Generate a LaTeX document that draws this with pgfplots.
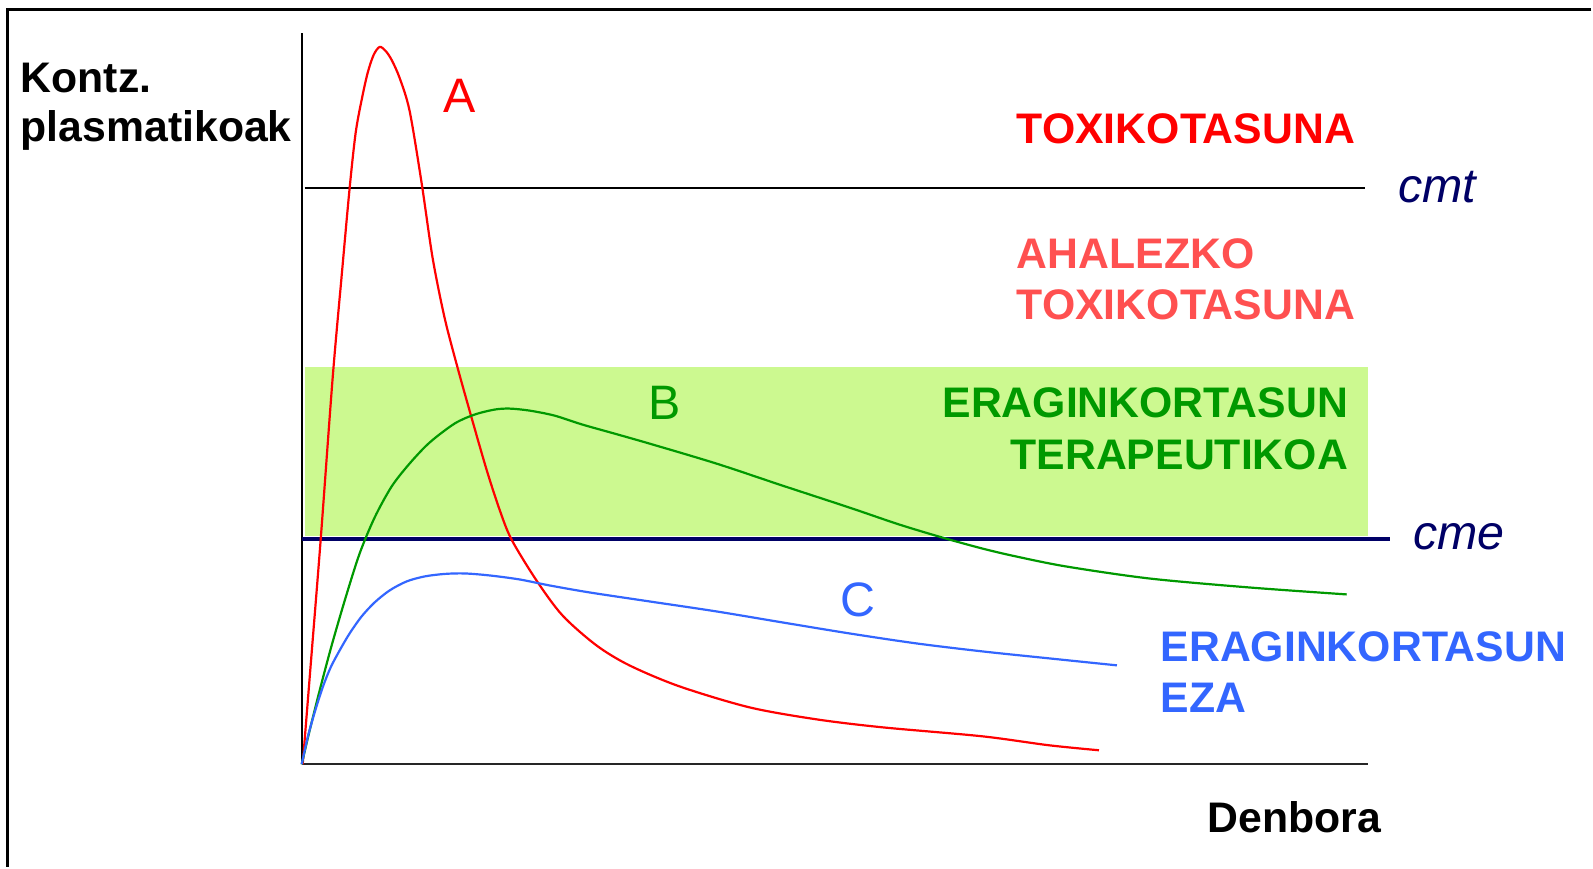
\documentclass[border=0pt]{standalone}
\usepackage{pgfplots}
\pgfplotsset{compat=1.18}
\usepackage{fontspec}
\setmainfont{Liberation Sans}
\definecolor{navy}{HTML}{000066}
\definecolor{redA}{HTML}{FF0000}
\definecolor{lightred}{HTML}{FF5050}
\definecolor{greenB}{HTML}{009900}
\definecolor{blueC}{HTML}{3366FF}
\definecolor{band}{HTML}{CCF990}
\newcommand{\bigb}{\fontsize{10.7}{12}\selectfont\bfseries}
\newcommand{\reg}{\fontsize{12.1}{14}\selectfont}
\begin{document}
\begin{tikzpicture}
\begin{axis}[
  scale only axis, width=266.75pt, height=183pt,
  xmin=302, xmax=1369, ymin=103, ymax=835,
  axis x line=bottom, axis y line=left,
  x axis line style={-, line width=0.6pt, draw=black!85},
  y axis line style={-, line width=0.5pt, draw=black},
  xtick=\empty, ytick=\empty, clip=false,
]
% page extent
\path (axis cs:0,0) rectangle (axis cs:1593,868);
% frame (cropped)
\draw[line width=0.75pt] (axis cs:1593,858) -- (axis cs:7.5,858) -- (axis cs:7.5,0);
% therapeutic band
\addplot[fill=band, draw=none] coordinates {(305,331) (1369,331) (1369,501) (305,501)} -- cycle;
% cmt line
\addplot[black, line width=0.5pt] coordinates {(305,680) (1366,680)};
% cme line
\addplot[navy, line width=1pt] coordinates {(302,328) (1391,328)};
% curve A
\addplot[redA, line width=0.55pt, smooth, tension=0.5] coordinates {
(303,103) (312,215) (321,328) (333,490) (342,592) (350,680) (356,735)
(362,768) (368,795) (374,813) (380,821) (386,817) (392,808) (400,790)
(410,757) (422,685) (433,610) (445,550) (458,500) (472,450) (487,398)
(500,358) (512,328) (537,287) (563,252) (597,222) (630,202) (680,181)
(750,160) (817,148) (883,140) (983,131) (1050,122) (1100,117)};
% curve B
\addplot[greenB, line width=0.55pt, smooth, tension=0.5] coordinates {
(302,103) (310,137) (320,177) (332,222) (346,270) (360,314) (375,350)
(392,381) (410,404) (430,425) (455,444) (475,453) (495,458) (510,459)
(530,457) (555,452) (583,443) (615,434) (650,424) (717,404) (783,382)
(850,360) (900,343) (943,330) (983,319) (1017,311) (1067,301)
(1150,289) (1250,280) (1348,273)};
% curve C
\addplot[blueC, line width=0.55pt, smooth, tension=0.5] coordinates {
(302,103) (308,130) (315,155) (323,180) (331,200) (340,217) (350,234)
(362,251) (375,265) (390,277) (407,286) (425,291) (445,293.5)
(465,294) (490,292) (520,288) (550,282) (590,275) (650,266) (717,256)
(783,245) (850,234) (917,224) (983,216) (1050,209) (1118,202)};
% texts
\node[anchor=base west, inner sep=0, font=\bigb, text=black] at (axis cs:20,775) {Kontz.};
\node[anchor=base west, inner sep=0, font=\bigb, text=black] at (axis cs:20,726) {plasmatikoak};
\node[anchor=base west, inner sep=0, font=\reg, text=redA] at (axis cs:443,755) {A};
\node[anchor=base west, inner sep=0, font=\bigb, text=redA] at (axis cs:1017,724) {TOXIKOTASUNA};
\node[anchor=base west, inner sep=0, font=\reg\itshape, text=navy] at (axis cs:1399,665) {cmt};
\node[anchor=base west, inner sep=0, font=\bigb, text=lightred] at (axis cs:1017,599) {AHALEZKO};
\node[anchor=base west, inner sep=0, font=\bigb, text=lightred] at (axis cs:1017,548) {TOXIKOTASUNA};
\node[anchor=base west, inner sep=0, font=\reg, text=greenB] at (axis cs:648,448) {B};
\node[anchor=base east, inner sep=0, font=\bigb, text=greenB] at (axis cs:1350,450) {ERAGINKORTASUN};
\node[anchor=base east, inner sep=0, font=\bigb, text=greenB] at (axis cs:1350,398) {TERAPEUTIKOA};
\node[anchor=base west, inner sep=0, font=\reg\itshape, text=navy] at (axis cs:1414,318) {cme};
\node[anchor=base west, inner sep=0, font=\reg, text=blueC] at (axis cs:840,251) {C};
\node[anchor=base west, inner sep=0, font=\bigb, text=blueC] at (axis cs:1161,206) {ERAGINKORTASUN};
\node[anchor=base west, inner sep=0, font=\bigb, text=blueC] at (axis cs:1161,155) {EZA};
\node[anchor=base west, inner sep=0, font=\bigb, text=black] at (axis cs:1208,35) {Denbora};
\end{axis}
\end{tikzpicture}
\end{document}
